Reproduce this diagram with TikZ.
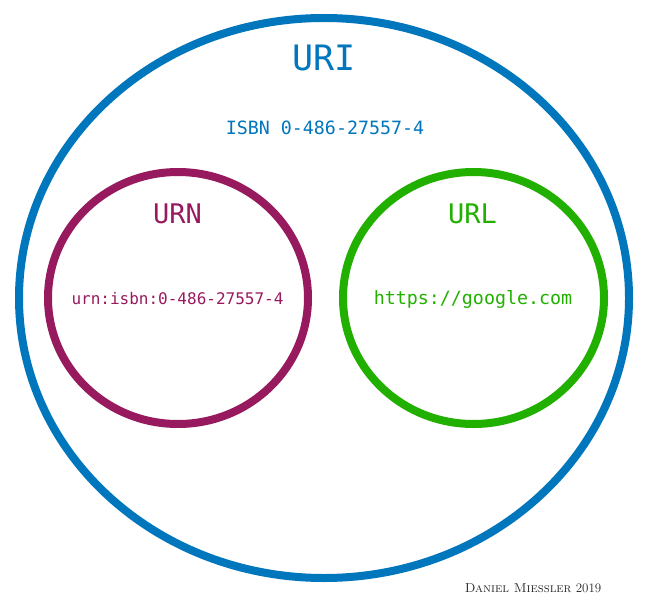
\documentclass[tikz,border=0pt]{standalone}
\usepackage{fontspec}
\newfontfamily\monofont{DejaVu Sans Mono}
\newfontfamily\condfont{DejaVu Sans Condensed}
\definecolor{uriblue}{RGB}{0,118,188}
\definecolor{urnpurple}{RGB}{152,26,94}
\definecolor{urlgreen}{RGB}{34,176,0}
\definecolor{authorgray}{RGB}{40,40,40}
\tikzset{
  ring/.style={line width=8pt},
  lbl/.style={inner sep=0pt, anchor=center},
}
\begin{document}
\begin{tikzpicture}[x=1pt,y=-1pt]
\useasboundingbox (0,0) rectangle (650,615);
\fill[white] (0,0) rectangle (650,615);
\draw[ring, uriblue] (324,298) ellipse [x radius=305, y radius=280];
\draw[ring, urnpurple] (178,298) ellipse [x radius=130, y radius=126];
\draw[ring, urlgreen] (473.5,298) ellipse [x radius=130.5, y radius=126];
\node[lbl, text=uriblue, font=\monofont\fontsize{35}{40}\selectfont] (uri) at (324,58) {URI};
\node[lbl, text=uriblue, font=\monofont\fontsize{18.3}{22}\selectfont] (isbn) at (325,128) {ISBN 0-486-27557-4};
\node[lbl, text=urnpurple, font=\monofont\fontsize{27}{32}\selectfont] (urn) at (177.5,214) {URN};
\node[lbl, text=urnpurple, font=\monofont\fontsize{16}{20}\selectfont] (urnx) at (177.5,299) {urn:isbn:0-486-27557-4};
\node[lbl, text=urlgreen, font=\monofont\fontsize{27}{32}\selectfont] (url) at (472.5,214) {URL};
\node[lbl, text=urlgreen, font=\monofont\fontsize{18.3}{22}\selectfont] (urlx) at (473,299) {https://google.com};
\node[lbl, text=authorgray, font=\fontsize{13}{16}\selectfont] (auth) at (533,588) {\textsc{Daniel Miessler} 2019};
\end{tikzpicture}
\end{document}
